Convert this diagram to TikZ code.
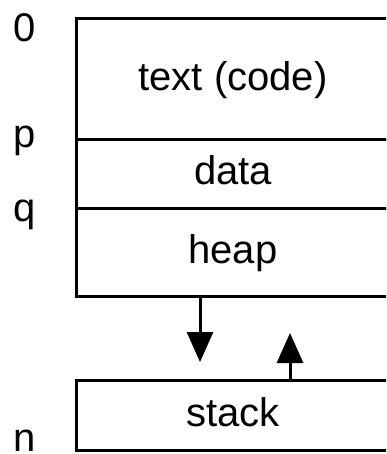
\documentclass[tikz,border=0pt]{standalone}
\usepackage{fontspec}
\setmainfont{Liberation Sans}
\usetikzlibrary{arrows.meta}
\begin{document}
\begin{tikzpicture}[
    x=1pt, y=-1pt,
    seg/.style={rectangle, draw, line width=3pt, minimum width=313pt, inner sep=0pt,
                font=\fontsize{40}{48}\selectfont, text height=30pt, text depth=8pt},
    addr/.style={anchor=base, font=\fontsize{40}{48}\selectfont},
    arrow/.style={-{Triangle[width=26pt, length=30pt]}, line width=3pt}
]
\clip (0,0) rectangle (386,454);

% Memory segments
\node[seg, minimum height=121pt] (code) at (233,79.5) {text (code)};
\node[seg, minimum height=68pt] (data) at (233,174) {data};
\node[seg, minimum height=88pt] (heap) at (233,252) {heap};
\node[seg, minimum height=70pt] (stack) at (233,415) {stack};

% Addresses
\node[addr] (a0) at (25,42) {0};
\node[addr] (ap) at (25,148) {p};
\node[addr] (aq) at (25,221) {q};
\node[addr] (an) at (25,451) {n};

% Growth directions
\coordinate (heapgrow) at (200,362);
\coordinate (stackgrow) at (290,333);
\draw[arrow] (heap.south -| heapgrow) -- (heapgrow);
\draw[arrow] (stack.north -| stackgrow) -- (stackgrow);

\end{tikzpicture}
\end{document}
